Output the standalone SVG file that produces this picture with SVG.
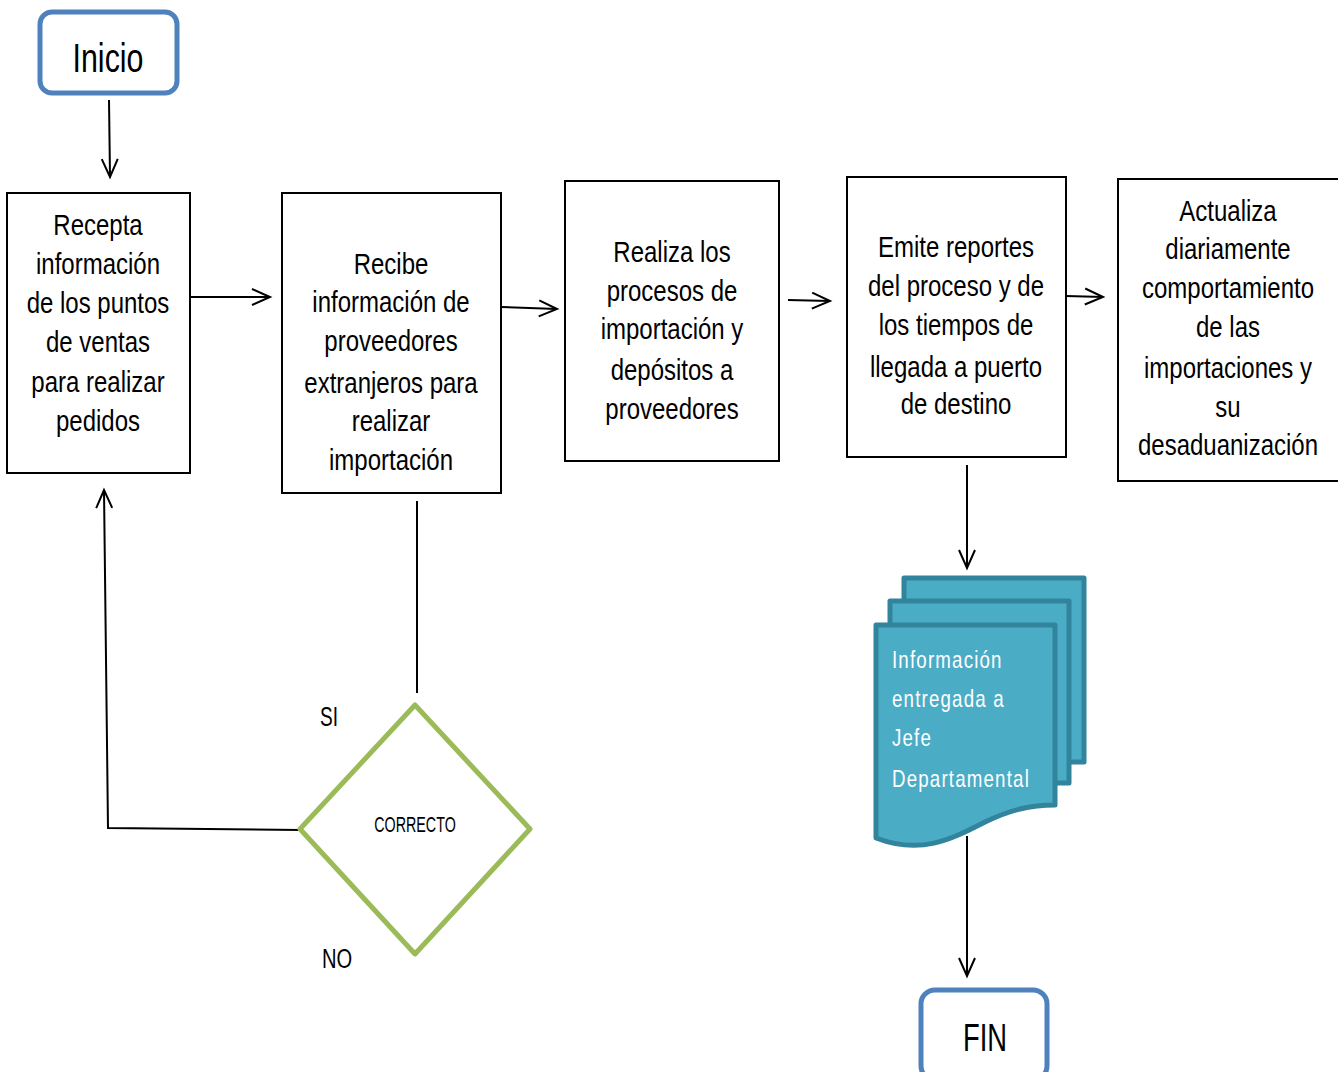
<svg xmlns="http://www.w3.org/2000/svg" width="1338" height="1072" viewBox="0 0 1338 1072">
<style>
.box{fill:#fff;stroke:#000;stroke-width:2}
.term{fill:#fff;stroke:#4F81BD;stroke-width:5}
.t{font-family:"Liberation Sans","Arial",sans-serif;font-size:30px;fill:#000;text-anchor:middle}
.c{font-family:"Liberation Sans","Arial",sans-serif;fill:#000;text-anchor:middle}
.conn{fill:none;stroke:#000;stroke-width:2}
.doc{fill:#4BACC6;stroke:#31849B;stroke-width:5;stroke-linejoin:round}
.dt{font-family:"Liberation Sans","Arial",sans-serif;font-size:24px;fill:#fff;letter-spacing:1.5px}
</style>
<defs>
<marker id="arr" markerUnits="userSpaceOnUse" markerWidth="24" markerHeight="24" refX="19" refY="10" orient="auto">
<path d="M1,2 L19,10 L1,18" fill="none" stroke="#000" stroke-width="2"/>
</marker>
</defs>
<rect width="1338" height="1072" fill="#fff"/>

<g id="connectors">
<line class="conn" x1="109" y1="100" x2="110" y2="177" marker-end="url(#arr)"/>
<line class="conn" x1="188" y1="297" x2="270" y2="297" marker-end="url(#arr)"/>
<line class="conn" x1="501" y1="307" x2="557" y2="309" marker-end="url(#arr)"/>
<line class="conn" x1="788" y1="300" x2="830" y2="301" marker-end="url(#arr)"/>
<line class="conn" x1="1066" y1="296" x2="1103" y2="297" marker-end="url(#arr)"/>
<line class="conn" x1="417" y1="501" x2="417" y2="693"/>
<polyline class="conn" points="300,830 108,828 104,490" marker-end="url(#arr)"/>
<line class="conn" x1="967" y1="465" x2="967" y2="568" marker-end="url(#arr)"/>
<line class="conn" x1="967" y1="836" x2="967" y2="976" marker-end="url(#arr)"/>
</g>

<g id="inicio">
<rect class="term" x="40" y="12" width="137" height="81" rx="12"/>
<text class="c" font-size="40" transform="translate(108,72) scale(0.76,1)" x="0" y="0">Inicio</text>
</g>

<g id="box1">
<rect class="box" x="7" y="193" width="183" height="280"/>
<text class="t" transform="translate(98,0) scale(0.8,1)"><tspan x="0" y="235">Recepta</tspan><tspan x="0" y="274">información</tspan><tspan x="0" y="313">de los puntos</tspan><tspan x="0" y="352">de ventas</tspan><tspan x="0" y="392">para realizar</tspan><tspan x="0" y="431">pedidos</tspan></text>
</g>

<g id="box2">
<rect class="box" x="282" y="193" width="219" height="300"/>
<text class="t" transform="translate(391,0) scale(0.8,1)"><tspan x="0" y="274">Recibe</tspan><tspan x="0" y="312">información de</tspan><tspan x="0" y="351">proveedores</tspan><tspan x="0" y="393">extranjeros para</tspan><tspan x="0" y="431">realizar</tspan><tspan x="0" y="470">importación</tspan></text>
</g>

<g id="box3">
<rect class="box" x="565" y="181" width="214" height="280"/>
<text class="t" transform="translate(672,0) scale(0.8,1)"><tspan x="0" y="262">Realiza los</tspan><tspan x="0" y="301">procesos de</tspan><tspan x="0" y="339">importación y</tspan><tspan x="0" y="380">depósitos a</tspan><tspan x="0" y="419">proveedores</tspan></text>
</g>

<g id="box4">
<rect class="box" x="847" y="177" width="219" height="280"/>
<text class="t" transform="translate(956,0) scale(0.8,1)"><tspan x="0" y="257">Emite reportes</tspan><tspan x="0" y="296">del proceso y de</tspan><tspan x="0" y="335">los tiempos de</tspan><tspan x="0" y="377">llegada a puerto</tspan><tspan x="0" y="414">de destino</tspan></text>
</g>

<g id="box5">
<rect class="box" x="1118" y="179" width="230" height="302"/>
<text class="t" transform="translate(1228,0) scale(0.8,1)"><tspan x="0" y="221">Actualiza</tspan><tspan x="0" y="259">diariamente</tspan><tspan x="0" y="298">comportamiento</tspan><tspan x="0" y="337">de las</tspan><tspan x="0" y="378">importaciones y</tspan><tspan x="0" y="417">su</tspan><tspan x="0" y="455">desaduanización</tspan></text>
</g>

<g id="decision">
<polygon points="415,705 530,829 415,954 300,829" fill="#fff" stroke="#9BBB59" stroke-width="5" stroke-linejoin="round"/>
<text class="c" font-size="22" transform="translate(415,832) scale(0.65,1)">CORRECTO</text>
<text class="c" font-size="28" transform="translate(329,726) scale(0.68,1)">SI</text>
<text class="c" font-size="28" transform="translate(337,968) scale(0.72,1)">NO</text>
</g>

<g id="documento">
<rect class="doc" x="904" y="578" width="180" height="184"/>
<rect class="doc" x="890" y="601" width="179" height="182"/>
<path class="doc" d="M876,625 L1055,625 L1055,805 C1030,805 1010,810 985,822 C950,840 920,855 876,838 Z"/>
<text class="dt" transform="translate(892,0) scale(0.78,1)"><tspan x="0" y="668">Información</tspan><tspan x="0" y="707">entregada a</tspan><tspan x="0" y="746">Jefe</tspan><tspan x="0" y="787">Departamental</tspan></text>
</g>

<g id="fin">
<rect class="term" x="921" y="990" width="126" height="90" rx="14"/>
<text class="c" font-size="38" transform="translate(985,1051) scale(0.72,1)">FIN</text>
</g>
</svg>
